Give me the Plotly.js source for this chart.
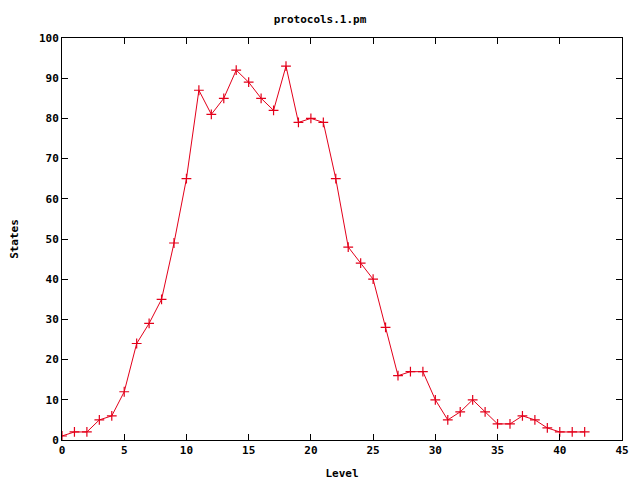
<!DOCTYPE html>
<html>
<head>
<meta charset="utf-8">
<script src="https://cdn.plot.ly/plotly-3.0.1.min.js"></script>
<style>html,body{margin:0;padding:0;background:#fff;}#chart{width:640px;height:480px;}</style>
</head>
<body>
<div id="chart"></div>
<script>
const levels = [0,1,2,3,4,5,6,7,8,9,10,11,12,13,14,15,16,17,18,19,20,21,22,23,24,25,26,27,28,29,30,31,32,33,34,35,36,37,38,39,40,41,42];
const states = [1,2,2,5,6,12,24,29,35,49,65,87,81,85,92,89,85,82,93,79,80,79,65,48,44,40,28,16,17,17,10,5,7,10,7,4,4,6,5,3,2,2,2];
const xTicks = [0,5,10,15,20,25,30,35,40,45];
const yTicks = [0,10,20,30,40,50,60,70,80,90,100];
const chartTitle = 'protocols.1.pm';
const xLabel = 'Level';
const yLabel = 'States';

const font = {family: '"DejaVu Sans Mono", "Liberation Mono", monospace', size: 11, color: '#000'};
const axisCommon = {
  showgrid: false, zeroline: false, showline: true, linecolor: '#000', linewidth: 1,
  mirror: 'ticks', ticks: 'inside', ticklen: 6, tickcolor: '#000', tickwidth: 1,
  tickfont: {family: font.family, size: 11, color: '#000', weight: 'bold'},
  tickmode: 'array'
};
const data = [{
  x: levels, y: states, type: 'scatter', mode: 'lines+markers',
  line: {color: '#e3001a', width: 1},
  marker: {symbol: 'cross-thin', size: 7, line: {color: '#e3001a', width: 1.2}, color: '#e3001a'},
  showlegend: false, hoverinfo: 'none'
}];
const layout = {
  width: 640, height: 480,
  margin: {l: 62, r: 18, t: 38, b: 40},
  paper_bgcolor: '#fff', plot_bgcolor: '#fff',
  font: font,
  title: {text: chartTitle, x: 0.5, xanchor: 'center', y: 1 - 19/480, yanchor: 'middle',
          font: {family: font.family, size: 11, color: '#000', weight: 'bold'}},
  xaxis: Object.assign({}, axisCommon, {range: [0, 45], tickvals: xTicks, ticktext: xTicks.map(String),
    title: {text: xLabel, standoff: 13, font: {family: font.family, size: 11, color: '#000', weight: 'bold'}}}),
  yaxis: Object.assign({}, axisCommon, {range: [0, 100], tickvals: yTicks, ticktext: yTicks.map(String),
    title: {text: yLabel, standoff: 18, font: {family: font.family, size: 11, color: '#000', weight: 'bold'}}})
};
Plotly.newPlot('chart', data, layout, {staticPlot: true, displayModeBar: false});
</script>
</body>
</html>
